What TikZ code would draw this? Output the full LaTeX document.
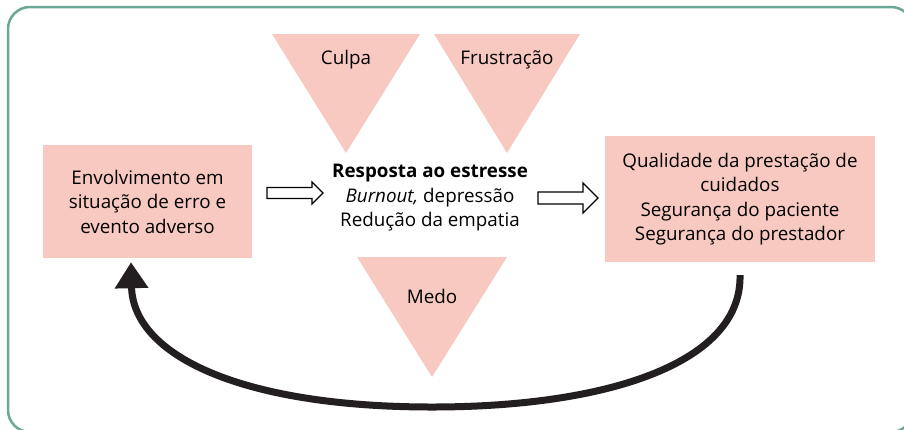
\documentclass[tikz,border=0pt]{standalone}
\usepackage{fontspec}
\setmainfont{Open Sans}
\usetikzlibrary{arrows.meta,calc}
\definecolor{pinkfill}{HTML}{F8C9C1}
\definecolor{framec}{HTML}{6CA897}
\definecolor{darkline}{HTML}{231F20}
\begin{document}
\begin{tikzpicture}[x=1pt,y=-1pt,
  pbox/.style={fill=pinkfill,draw=none,inner sep=0pt,align=center,font=\fontsize{18.8}{24.5}\selectfont},
  tri/.style={fill=pinkfill,draw=none},
  trilabel/.style={font=\fontsize{18.8}{24}\selectfont,inner sep=0pt},
  hollow/.style={draw=black,fill=white,line width=1.3pt,line join=miter},
  loopline/.style={line width=7pt,draw=darkline,-{Triangle[length=26pt,width=32pt]}}
]
\useasboundingbox (0,0) rectangle (904,429);
\clip (0,0) rectangle (904,429);
\fill[white] (0,0) rectangle (904,429);
% frame
\draw[framec,line width=2.5pt,rounded corners=22pt] (8,7) rectangle (913,432);
% triangles
\fill[tri] (272,34) -- (420,34) -- (346,153) -- cycle;
\fill[tri] (434,34) -- (580,34) -- (507,153) -- cycle;
\fill[tri] (357,257) -- (507,257) -- (432,377) -- cycle;
\node[trilabel] (culpa) at (346,60) {Culpa};
\node[trilabel] (frus) at (507,60) {Frustração};
\node[trilabel] (medo) at (432,296) {Medo};
% boxes
\node[pbox,minimum width=209pt,minimum height=113pt] (lb) at (147.5,201.5)
  {Envolvimento em\\situação de erro e\\evento adverso};
\node[pbox,minimum width=270pt,minimum height=126pt] (rb) at (740,199)
  {Qualidade da prestação de\\cuidados\\Segurança do paciente\\Segurança do prestador};
% center text
\node[align=center,inner sep=0pt,font=\fontsize{18.8}{24.5}\selectfont] (mid) at (430,198)
  {\textbf{Resposta ao estresse}\\\textit{Burnout,} depressão\\Redução da empatia};
% hollow arrows
\coordinate (a1) at (267,193);
\draw[hollow] (a1) ++(0,-5.5) -- ++(45,0) -- ++(0,-5.5) -- ++(11,11) -- ++(-11,11) -- ++(0,-5.5) -- ++(-45,0) -- cycle;
\coordinate (a2) at (538,198);
\draw[hollow] (a2) ++(0,-6) -- ++(45,0) -- ++(0,-9) -- ++(15,15) -- ++(-15,15) -- ++(0,-9) -- ++(-45,0) -- cycle;
% loop arrow
\coordinate (s) at ($(rb.south)+(0,13)$);
\coordinate (e) at ($(lb.south)+(-16.5,4)$);
\draw[loopline] (s) .. controls (742,362) and (610,407) .. (432,407)
  .. controls (240,407) and (133,355) .. (e);
\end{tikzpicture}
\end{document}
